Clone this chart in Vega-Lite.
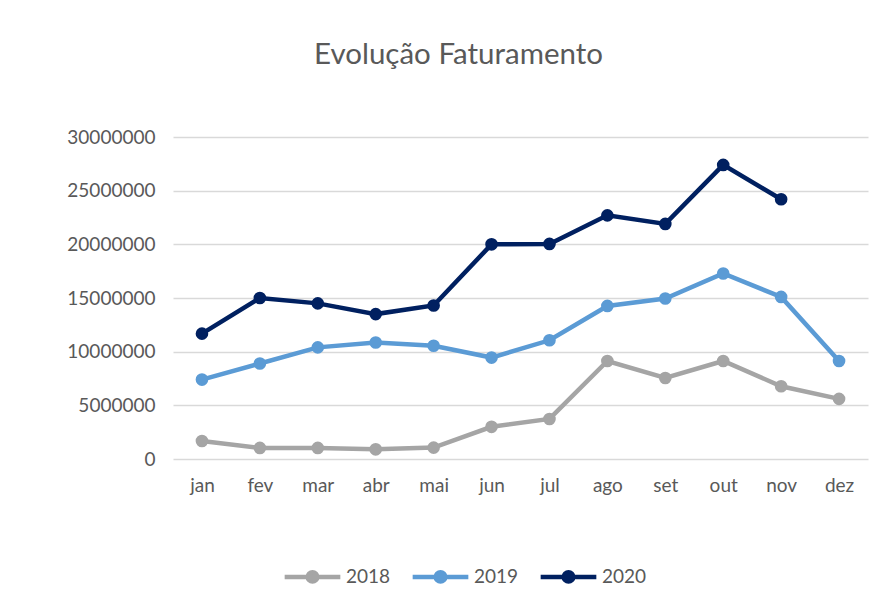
{
  "$schema": "https://vega.github.io/schema/vega-lite/v6.json",
  "autosize": {"type": "none"},
  "padding": {"left": 173, "top": 137, "right": 28, "bottom": 148},
  "width": 695,
  "height": 322,
  "background": "white",
  "title": {
    "text": "Evolução Faturamento",
    "font": "Lato",
    "fontSize": 29.5,
    "fontWeight": "normal",
    "color": "#595959",
    "anchor": "middle",
    "dx": -62,
    "offset": 58
  },
  "data": {
    "values": [
      {"mes": "jan", "ano": "2018", "valor": 1680000},
      {"mes": "fev", "ano": "2018", "valor": 1030000},
      {"mes": "mar", "ano": "2018", "valor": 1030000},
      {"mes": "abr", "ano": "2018", "valor": 900000},
      {"mes": "mai", "ano": "2018", "valor": 1060000},
      {"mes": "jun", "ano": "2018", "valor": 3000000},
      {"mes": "jul", "ano": "2018", "valor": 3730000},
      {"mes": "ago", "ano": "2018", "valor": 9130000},
      {"mes": "set", "ano": "2018", "valor": 7550000},
      {"mes": "out", "ano": "2018", "valor": 9130000},
      {"mes": "nov", "ano": "2018", "valor": 6780000},
      {"mes": "dez", "ano": "2018", "valor": 5600000},
      {"mes": "jan", "ano": "2019", "valor": 7400000},
      {"mes": "fev", "ano": "2019", "valor": 8900000},
      {"mes": "mar", "ano": "2019", "valor": 10400000},
      {"mes": "abr", "ano": "2019", "valor": 10850000},
      {"mes": "mai", "ano": "2019", "valor": 10550000},
      {"mes": "jun", "ano": "2019", "valor": 9450000},
      {"mes": "jul", "ano": "2019", "valor": 11060000},
      {"mes": "ago", "ano": "2019", "valor": 14260000},
      {"mes": "set", "ano": "2019", "valor": 14950000},
      {"mes": "out", "ano": "2019", "valor": 17280000},
      {"mes": "nov", "ano": "2019", "valor": 15100000},
      {"mes": "dez", "ano": "2019", "valor": 9130000},
      {"mes": "jan", "ano": "2020", "valor": 11680000},
      {"mes": "fev", "ano": "2020", "valor": 15000000},
      {"mes": "mar", "ano": "2020", "valor": 14500000},
      {"mes": "abr", "ano": "2020", "valor": 13500000},
      {"mes": "mai", "ano": "2020", "valor": 14300000},
      {"mes": "jun", "ano": "2020", "valor": 20000000},
      {"mes": "jul", "ano": "2020", "valor": 20040000},
      {"mes": "ago", "ano": "2020", "valor": 22700000},
      {"mes": "set", "ano": "2020", "valor": 21900000},
      {"mes": "out", "ano": "2020", "valor": 27400000},
      {"mes": "nov", "ano": "2020", "valor": 24200000}
    ]
  },
  "mark": {"type": "line", "strokeWidth": 4.5, "point": {"size": 160, "filled": true, "opacity": 1}},
  "encoding": {
    "x": {
      "field": "mes",
      "type": "ordinal",
      "sort": ["jan", "fev", "mar", "abr", "mai", "jun", "jul", "ago", "set", "out", "nov", "dez"],
      "scale": {"type": "point", "padding": 0.5},
      "axis": {
        "title": null,
        "labelAngle": 0,
        "ticks": false,
        "domain": false,
        "labelPadding": 17,
        "labelFont": "Lato",
        "labelFontSize": 19,
        "labelColor": "#595959",
        "grid": false
      }
    },
    "y": {
      "field": "valor",
      "type": "quantitative",
      "scale": {"domain": [0, 30000000]},
      "axis": {
        "title": null,
        "values": [0, 5000000, 10000000, 15000000, 20000000, 25000000, 30000000],
        "format": "d",
        "ticks": false,
        "domain": false,
        "labelPadding": 18,
        "labelFont": "Lato",
        "labelFontSize": 19,
        "labelColor": "#595959",
        "gridColor": "#D9D9D9",
        "gridWidth": 1.3
      }
    },
    "color": {
      "field": "ano",
      "type": "nominal",
      "scale": {"domain": ["2018", "2019", "2020"], "range": ["#A5A5A5", "#5B9BD5", "#002060"]},
      "legend": {
        "title": null,
        "orient": "none",
        "direction": "horizontal",
        "legendX": 109,
        "legendY": 409,
        "symbolType": "M-1,0L1,0M-0.17,0A0.17,0.17 0 1,0 0.17,0A0.17,0.17 0 1,0 -0.17,0",
        "symbolSize": 3100,
        "symbolStrokeWidth": 4.5,
        "labelFont": "Lato",
        "labelFontSize": 19,
        "labelColor": "#595959",
        "columnPadding": 12,
        "labelOffset": 3
      }
    }
  },
  "config": {"view": {"stroke": null}}
}
